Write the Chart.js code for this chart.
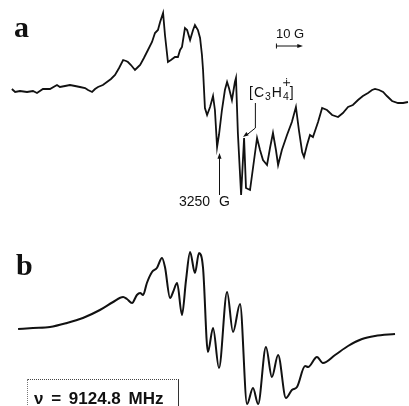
<!DOCTYPE html>
<html>
<head>
<meta charset="utf-8">
<script src="https://cdn.jsdelivr.net/npm/chart.js@4.4.1/dist/chart.umd.min.js"></script>
<style>
  html, body { margin: 0; padding: 0; background: #fff; overflow: hidden; }
  #wrap { position: relative; width: 409px; height: 406px; overflow: hidden; }
  .lbl { position: absolute; line-height: 1; white-space: nowrap; color: #111; }
  .serif { font-family: "Liberation Serif", "DejaVu Serif", serif; font-weight: bold; font-size: 30px; }
  .sans { font-family: "Liberation Sans", Arial, sans-serif; font-size: 13px; }
  .sub { font-size: 0.75em; position: relative; top: 0.25em; }
  #freq { position: absolute; left: 27px; top: 379px; width: 152px; height: 40px;
          border-top: 1px dotted #444; border-left: 1px dotted #777; border-right: 1px solid #333;
          font-family: "Liberation Sans", Arial, sans-serif; font-weight: bold; font-size: 17px;
          line-height: 1; padding: 10px 0 0 6px; box-sizing: border-box; word-spacing: 3px; color: #111; }
</style>
</head>
<body>
<div id="wrap">
  <canvas id="spectrum" width="409" height="406"></canvas>
  <div class="lbl serif" style="left:14px;top:12px">a</div>
  <div class="lbl serif" style="left:16px;top:250px">b</div>
  <div class="lbl sans" style="left:276px;top:27px">10 G</div>
  <div class="lbl sans" style="left:249px;top:85px;font-size:14px;letter-spacing:1px">[C<span class="sub">3</span>H<span class="sub" style="position:relative">4<span style="position:absolute;left:-1px;top:-13px;font-size:11px;font-family:'DejaVu Sans'">∔</span></span>]</div>
  <div class="lbl sans" style="left:179px;top:194px;font-size:14px;word-spacing:5px">3250 G</div>
  <div id="freq">ν = 9124.8 MHz</div>
</div>
<script>
// magnetic field (G) and first-derivative signal, trace a (experiment)
const fieldA = [3173.4, 3174.6, 3176.4, 3179.0, 3181.2, 3182.7, 3184.9, 3187.5, 3190.1, 3191.2,
  3193.1, 3194.9, 3196.8, 3198.6, 3200.5, 3201.6, 3203.1, 3204.2, 3205.3, 3207.1,
  3208.6, 3210.1, 3211.6, 3213.1, 3214.6, 3215.7, 3216.4, 3217.5, 3219.0, 3220.1,
  3220.9, 3222.3, 3223.8, 3225.3, 3226.4, 3227.5, 3228.3, 3229.4, 3230.1, 3231.2,
  3232.3, 3233.8, 3234.9, 3235.7, 3236.4, 3237.5, 3238.3, 3239.4, 3240.5, 3241.2,
  3242.3, 3243.1, 3243.8, 3244.2, 3244.9, 3245.7, 3246.8, 3247.9, 3248.6, 3249.4,
  3250.1, 3251.2, 3252.3, 3253.1, 3253.8, 3254.9, 3256.0, 3256.4, 3257.1, 3258.3,
  3259.4, 3260.1, 3261.6, 3263.1, 3264.2, 3265.3, 3266.4, 3267.9, 3269.0, 3270.1,
  3271.2, 3272.0, 3273.4, 3275.3, 3277.1, 3278.6, 3279.7, 3280.9, 3281.6, 3282.7,
  3283.8, 3284.9, 3286.8, 3288.3, 3290.1, 3292.0, 3294.2, 3296.0, 3297.9, 3299.7,
  3301.6, 3303.4, 3305.3, 3306.8, 3307.9, 3309.4, 3310.9, 3312.3, 3314.2, 3316.4,
  3318.3, 3320.1];
const signalA = [1, -2, -1, -2, -1, -3, 1, 1, 5, 3,
  4, 5, 4, 3, 2, 0, -2, 1, 3, 5,
  8, 11, 15, 22, 30, 29, 28, 25, 20, 23,
  25, 32, 40, 48, 57, 60, 68, 77, 55, 28,
  30, 33, 33, 40, 43, 62, 60, 50, 60, 65,
  60, 52, 35, 20, -18, -25, -17, -6, -20, -57,
  -45, -20, 0, 8, 2, -10, 8, 12, -43, -105,
  -48, -98, -100, -70, -48, -60, -70, -75, -58, -43,
  -60, -75, -60, -45, -32, -17, -40, -62, -67, -55,
  -45, -47, -32, -18, -20, -25, -27, -23, -17, -15,
  -10, -6, -3, 0, 1, 0, -2, -6, -11, -13,
  -13, -12];

// trace b (simulation)
const fieldB = [3175.7, 3181.2, 3187.5, 3193.8, 3199.7, 3206.0, 3210.9, 3214.6, 3216.0, 3217.9,
  3219.7, 3220.9, 3222.0, 3223.4, 3225.3, 3227.1, 3229.0, 3230.1, 3232.0, 3233.1,
  3234.6, 3236.4, 3237.9, 3239.4, 3241.2, 3242.7, 3244.2, 3246.0, 3247.9, 3250.1,
  3253.1, 3255.3, 3257.9, 3260.5, 3262.7, 3264.6, 3267.5, 3269.7, 3272.0, 3274.9,
  3277.1, 3279.0, 3282.0, 3283.1, 3286.4, 3288.6, 3293.1, 3297.9, 3303.1, 3307.9,
  3315.3];
const signalB = [1, 2, 3, 7, 12, 20, 28, 33, 31, 27,
  35, 37, 35, 47, 58, 62, 72, 63, 32, 38,
  47, 15, 50, 78, 57, 77, 62, -22, 2, -38,
  38, -2, 26, -74, -58, -74, -17, -47, -25, -68,
  -60, -57, -36, -37, -27, -33, -25, -16, -9, -6,
  -4];

// annotation positions (G)
const scaleBarStart = 3271.2;
const scaleBarLength = 10;
const centerField = 3250;

// vertical offsets of the two traces
const offsetA = 316;
const offsetB = 76;

function toPoints(xs, ys, off) {
  return xs.map((x, i) => ({ x: x, y: ys[i] + off }));
}

function arrowHead(ctx, x, y, ang, len) {
  ctx.beginPath();
  ctx.moveTo(x, y);
  ctx.lineTo(x - len * Math.cos(ang - 0.35), y - len * Math.sin(ang - 0.35));
  ctx.lineTo(x - len * Math.cos(ang + 0.35), y - len * Math.sin(ang + 0.35));
  ctx.closePath();
  ctx.fill();
}

const marks = {
  id: 'marks',
  afterDatasetsDraw(chart) {
    const ctx = chart.ctx;
    const xs = chart.scales.x, ys = chart.scales.y;
    ctx.save();
    ctx.strokeStyle = '#111';
    ctx.fillStyle = '#111';
    ctx.lineWidth = 1;

    // 10 G scale bar
    const x1 = xs.getPixelForValue(scaleBarStart);
    const x2 = xs.getPixelForValue(scaleBarStart + scaleBarLength);
    const yb = ys.getPixelForValue(360);
    ctx.beginPath();
    ctx.moveTo(x1, yb); ctx.lineTo(x2 - 3, yb);
    ctx.moveTo(x1 + 0.5, yb - 2.5); ctx.lineTo(x1 + 0.5, yb + 2.5);
    ctx.stroke();
    arrowHead(ctx, x2, yb, 0, 6);

    // 3250 G marker
    const xc = Math.round(xs.getPixelForValue(centerField)) + 0.5;
    const yTop = ys.getPixelForValue(253), yBot = ys.getPixelForValue(211);
    ctx.beginPath();
    ctx.moveTo(xc, yBot); ctx.lineTo(xc, yTop + 4);
    ctx.stroke();
    arrowHead(ctx, xc, yTop, -Math.PI / 2, 6);

    // radical cation leader
    const xl = xs.getPixelForValue(3263.4) + 0.5;
    const xe = xs.getPixelForValue(3259.0);
    const yl1 = ys.getPixelForValue(303), yl2 = ys.getPixelForValue(278), ye = ys.getPixelForValue(269);
    ctx.beginPath();
    ctx.moveTo(xl, yl1); ctx.lineTo(xl, yl2); ctx.lineTo(xe + 3, ye - 1.5);
    ctx.stroke();
    arrowHead(ctx, xe, ye, Math.atan2(ye - yl2, xe - xl), 6);
    ctx.restore();
  }
};

new Chart(document.getElementById('spectrum'), {
  type: 'line',
  data: {
    datasets: [
      {
        label: 'a',
        data: toPoints(fieldA, signalA, offsetA),
        borderColor: '#111',
        borderWidth: 1.8,
        pointRadius: 0,
        tension: 0,
        fill: false
      },
      {
        label: 'b',
        data: toPoints(fieldB, signalB, offsetB),
        borderColor: '#111',
        borderWidth: 2,
        pointRadius: 0,
        cubicInterpolationMode: 'monotone',
        fill: false,
        clip: false
      }
    ]
  },
  options: {
    responsive: false,
    animation: false,
    devicePixelRatio: 1,
    layout: { padding: 0 },
    plugins: { legend: { display: false }, tooltip: { enabled: false } },
    scales: {
      x: { type: 'linear', min: 3169, max: 3320.48, display: false },
      y: { type: 'linear', min: 0, max: 406, display: false }
    }
  },
  plugins: [marks]
});
</script>
</body>
</html>
